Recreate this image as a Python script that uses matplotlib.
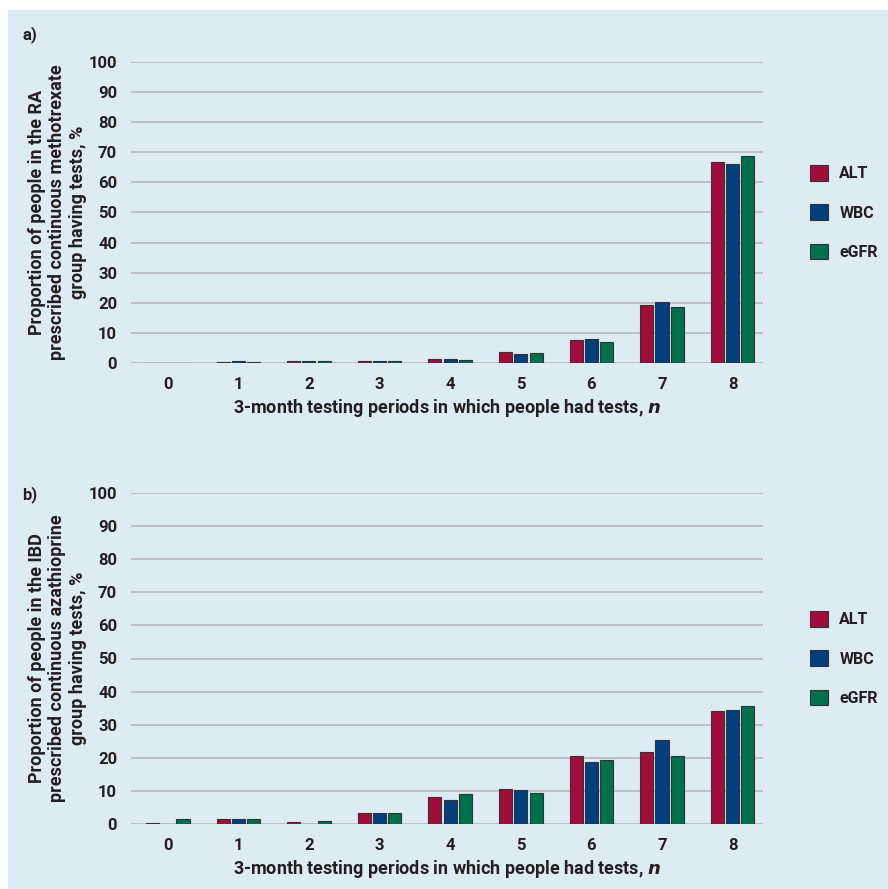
import numpy as np
import matplotlib
matplotlib.use("Agg")
from matplotlib import pyplot as plt
from matplotlib.patches import Rectangle

plt.rcParams['font.family'] = ['Liberation Sans Narrow', 'Roboto', 'DejaVu Sans']
plt.rcParams['font.weight'] = 'bold'
plt.rcParams['axes.labelweight'] = 'bold'

# Data
periods = [0, 1, 2, 3, 4, 5, 6, 7, 8]
series = ['ALT', 'WBC', 'eGFR']
colors = ['#a10d3b', '#023f7c', '#00704b']

ra_alt = [0.0, 0.4, 0.5, 0.8, 1.3, 3.8, 7.7, 19.4, 66.8]
ra_wbc = [0.0, 0.7, 0.6, 0.8, 1.3, 3.1, 7.9, 20.1, 66.0]
ra_egfr = [0.0, 0.4, 0.5, 0.7, 1.0, 3.3, 6.9, 18.7, 68.9]

ibd_alt = [0.4, 1.6, 0.7, 3.3, 8.2, 10.7, 20.6, 21.7, 34.0]
ibd_wbc = [0.0, 1.5, 0.0, 3.3, 7.3, 10.2, 18.6, 25.5, 34.4]
ibd_egfr = [1.5, 1.5, 0.9, 3.2, 9.0, 9.4, 19.3, 20.6, 35.6]

yticks = [0, 10, 20, 30, 40, 50, 60, 70, 80, 90, 100]
xlabel = '3-month testing periods in which people had tests, $\\boldsymbol{n}$'
ylabel_a = 'Proportion of people in the RA\nprescribed continuous methotrexate\ngroup having tests, %'
ylabel_b = 'Proportion of people in the IBD\nprescribed continuous azathioprine\ngroup having tests, %'

bg = '#ddebf2'
W, H = 888, 889
fig = plt.figure(figsize=(W / 100, H / 100), dpi=100)
fig.patch.set_facecolor('white')
fig.patches.append(Rectangle((8 / W, 0), 1, 1 - 10 / H, transform=fig.transFigure,
                             facecolor=bg, edgecolor='none', zorder=-5))


def panel(rect, data, ylabel, letter, letter_y):
    ax = fig.add_axes(rect)
    ax.set_facecolor('none')
    ax.set_zorder(2)
    x = np.arange(len(periods))
    off = 0.216
    for i, vals in enumerate(data):
        ax.bar(x + (i - 1) * off, vals, width=0.185, color=colors[i],
               edgecolor='#333333', linewidth=0.8, label=series[i], zorder=3)
    ax.set_xlim(-0.52, 8.43)
    ax.set_ylim(0, 100)
    ax.set_yticks(yticks)
    ax.set_xticks(x)
    ax.set_xticklabels([str(p) for p in periods])
    for s in ax.spines.values():
        s.set_visible(False)
    ax.grid(axis='y', color='#b5b9bd', linewidth=1.2, zorder=1)
    ax.tick_params(length=0, labelsize=12, colors='#231f20', pad=10)
    ax.tick_params(axis='x', pad=10)
    ax.set_xlabel(xlabel, fontsize=13, color='#231f20', labelpad=4)
    ax.set_ylabel(ylabel, fontsize=13, color='#231f20', labelpad=1,
                  linespacing=1.2)
    ax.legend(loc='center left', bbox_to_anchor=(1.065, 0.5), frameon=False,
              fontsize=11.5, handlelength=1.1, handleheight=1.1,
              labelspacing=1.45, handletextpad=0.7, labelcolor='#231f20',
              borderaxespad=0)
    fig.text(22 / W, 1 - letter_y / H, letter, fontsize=12, color='#231f20',
             va='center', ha='left')
    return ax


panel([131 / W, 1 - 363 / H, 632 / W, 301 / H], [ra_alt, ra_wbc, ra_egfr],
      ylabel_a, 'a)', 35)
panel([131 / W, 1 - 824 / H, 632 / W, 331 / H], [ibd_alt, ibd_wbc, ibd_egfr],
      ylabel_b, 'b)', 495)

fig.savefig('out.png', dpi=100, facecolor='white')
